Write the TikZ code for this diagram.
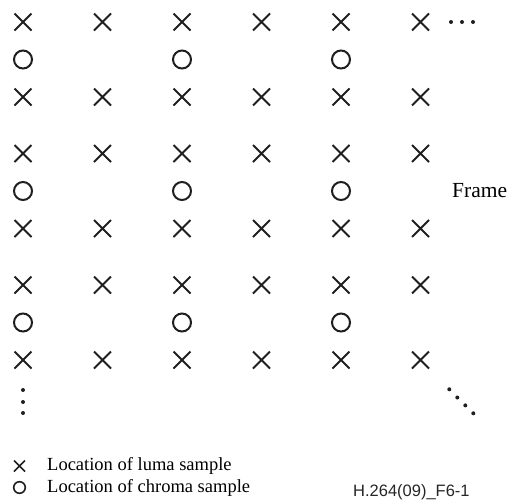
\documentclass[tikz,border=0pt]{standalone}
\usepackage{fontspec}
\setmainfont{Liberation Serif}
\newfontfamily\arialfont{Liberation Sans}
\begin{document}
\begin{tikzpicture}[x=1pt,y=-1pt,
  lumax/.pic={\draw[line width=2pt,color=black!88] (-8.5,-8.5) -- (8.5,8.5) (-8.5,8.5) -- (8.5,-8.5);},
  chromao/.pic={\draw[line width=2pt,color=black!88] (0,0) circle[radius=9];},
  lumaxs/.pic={\draw[line width=1.6pt,color=black!88] (-5.5,-5.5) -- (5.5,5.5) (-5.5,5.5) -- (5.5,-5.5);},
  chromaos/.pic={\draw[line width=1.6pt,color=black!88] (0,0) circle[radius=5.8];},
  dotm/.style={fill=black!88,draw=none},
  lbl/.style={inner sep=0pt,font=\fontsize{18.5}{20}\selectfont}
]
\useasboundingbox (0,0) rectangle (510,501);
% grid
\foreach \r in {22,153.5,285}{
  \foreach \c in {0,...,5}{
    \pgfmathsetmacro{\xx}{23+79.5*\c}
    \pic at (\xx,\r) {lumax};
    \pic at (\xx,\r+75) {lumax};
  }
  \foreach \c in {0,2,4}{
    \pgfmathsetmacro{\xx}{23+79.5*\c}
    \pic at (\xx,\r+37.5) {chromao};
  }
}
% continuation dots
\foreach \x in {451,462,473} \fill[dotm] (\x,22) circle[radius=2];
\foreach \y in {390,402,413} \fill[dotm] (23,\y) circle[radius=2];
\foreach \x/\y in {449.3/389.3,457.3/397.5,465.3/405.4,473.3/413.3} \fill[dotm] (\x,\y) circle[radius=2];
% Frame label
\node[inner sep=0pt,anchor=west,font=\fontsize{21.5}{23}\selectfont] (frame) at (452,191) {Frame};
% legend
\pic at (19.5,466) {lumaxs};
\pic at (19.5,487.5) {chromaos};
\node[lbl,anchor=west] (luma) at (47,466) {Location of luma sample};
\node[lbl,anchor=west] (chroma) at (47,487.5) {Location of chroma sample};
\node[inner sep=0pt,anchor=west,font=\arialfont\fontsize{16.5}{17}\selectfont,color=black!85] (fid) at (353,492) {H.264(09)\_F6-1};
\end{tikzpicture}
\end{document}
